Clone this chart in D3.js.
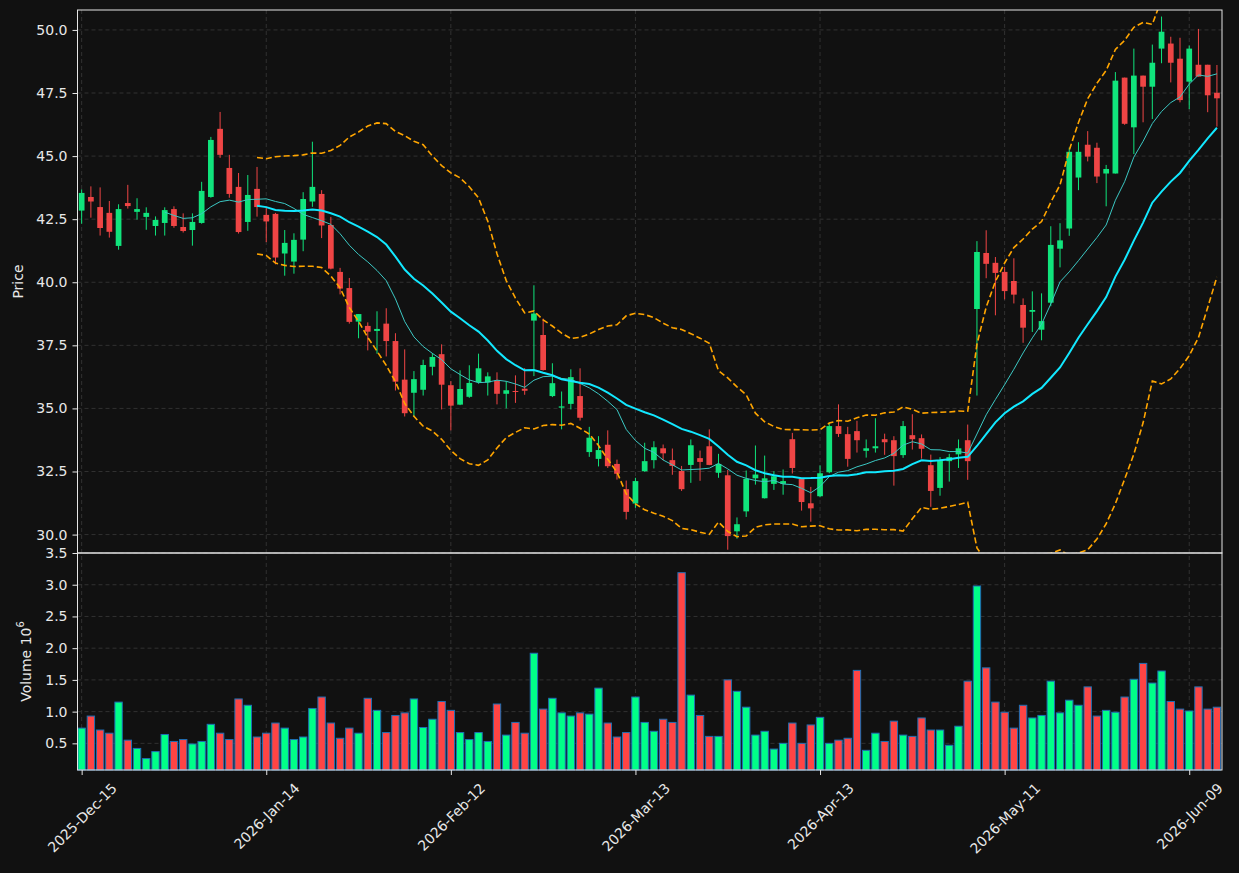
<!doctype html>
<html lang="en">
<head>
<meta charset="utf-8" />
<title>Price and volume</title>
<script src="https://d3js.org/d3.v7.min.js"></script>
<style>
 body { margin: 0; background: #111111; }
 svg { display: block; font-family: "DejaVu Sans", sans-serif; }
 .tick text { fill: #e8e8e8; font-size: 14px; font-family: "DejaVu Sans", sans-serif; }
</style>
</head>
<body>
<svg id="chart" width="1239" height="873"></svg>
<script>
// daily candles, one per trading day (index 0 = 2025-Dec-15)
const opens = [42.84,43.38,42.98,42.75,41.44,43.14,42.79,42.59,42.23,42.35,
  42.90,42.19,42.07,42.35,43.38,46.08,44.53,43.78,42.39,43.70,
  42.67,42.71,41.14,40.82,41.69,43.20,43.50,42.27,40.41,39.77,
  38.44,38.27,38.07,38.36,37.67,36.14,35.62,35.74,36.65,37.15,
  35.92,35.15,35.46,36.04,36.03,36.11,35.58,35.69,35.78,38.48,
  37.91,35.49,35.03,35.18,35.49,33.27,33.00,33.56,32.80,31.80,
  31.23,32.51,32.95,33.42,32.95,32.52,32.76,33.03,33.50,32.45,
  32.35,30.13,30.92,32.23,31.44,32.01,32.01,33.78,32.21,31.24,
  31.52,32.47,34.30,33.98,34.10,33.32,33.42,33.78,33.74,33.15,
  33.94,33.82,32.75,31.85,32.91,33.18,33.74,38.94,41.16,40.77,
  40.41,40.05,39.10,38.83,38.12,39.19,41.33,42.13,44.15,45.45,
  45.33,44.31,44.31,48.11,46.14,48.19,47.75,49.26,49.46,48.86,
  47.95,48.62,48.62,47.51];
const highs = [43.68,43.80,43.76,43.22,43.09,43.86,43.33,42.97,42.61,42.97,
  43.01,42.73,42.73,43.98,45.76,46.75,45.05,44.33,44.25,44.57,
  42.94,42.75,42.07,41.94,43.57,45.57,43.65,42.59,40.57,40.17,
  38.74,38.41,38.85,38.97,37.98,37.34,36.48,36.93,37.19,37.54,
  36.08,36.51,36.71,37.17,36.43,36.43,36.08,36.31,36.60,39.88,
  38.56,36.79,35.67,36.55,36.59,34.27,33.90,34.13,32.97,32.14,
  32.25,33.64,33.70,33.57,33.41,32.72,33.77,33.33,34.17,33.20,
  32.56,30.68,32.54,33.53,33.13,32.51,32.58,34.03,32.21,31.89,
  32.74,34.42,35.16,34.27,34.51,33.77,34.61,34.00,33.90,34.50,
  34.77,33.97,33.17,33.07,33.20,33.77,34.36,41.63,42.06,41.00,
  40.61,40.95,39.36,39.64,39.56,42.22,42.34,45.34,45.55,45.99,
  45.53,44.65,48.33,48.11,49.26,48.19,49.42,50.53,49.73,49.69,
  49.38,50.04,48.62,48.61];
const lows = [42.32,42.56,41.85,41.77,41.29,42.92,42.48,42.08,41.85,41.85,
  42.16,41.97,41.45,42.32,43.35,44.93,43.35,41.93,42.04,42.60,
  41.59,40.71,40.26,40.34,41.23,42.99,41.75,40.51,39.52,38.36,
  37.78,37.30,37.17,37.06,35.71,34.68,34.67,35.51,36.31,34.96,
  34.13,35.13,35.42,35.98,35.51,35.16,35.00,35.22,35.54,36.28,
  36.50,35.45,34.17,34.96,34.52,33.08,32.70,32.64,32.18,30.60,
  31.06,32.49,32.62,32.95,32.37,31.73,32.05,32.13,32.75,32.25,
  29.40,29.84,30.70,31.98,31.43,31.77,31.58,32.42,30.95,30.51,
  31.48,32.43,33.87,32.69,33.25,33.05,33.25,33.16,31.94,33.04,
  33.37,33.01,31.10,31.54,32.10,32.64,32.17,35.51,40.16,38.69,
  39.32,39.16,37.60,38.03,37.70,39.05,40.59,41.84,43.65,44.79,
  43.93,43.01,44.31,46.24,45.08,46.34,46.47,48.68,47.92,47.13,
  46.86,48.15,46.74,46.17];
const closes = [43.54,43.20,42.15,42.00,42.90,43.02,42.90,42.75,42.47,42.86,
  42.23,42.03,42.39,43.62,45.64,45.05,43.50,41.99,43.46,42.98,
  42.41,40.98,41.56,41.68,43.30,43.78,42.25,40.54,39.75,38.43,
  38.74,38.04,38.15,37.67,36.06,34.81,36.16,36.72,37.04,35.94,
  35.11,35.77,36.01,36.59,36.27,35.58,35.72,35.66,35.70,38.76,
  36.52,36.00,35.08,36.24,34.63,33.84,33.35,32.71,32.41,30.90,
  32.12,32.91,33.46,33.22,32.72,31.80,33.54,32.88,32.76,32.80,
  29.94,30.41,32.21,32.38,32.23,32.31,32.12,32.64,31.29,31.04,
  32.43,34.30,33.99,33.00,33.74,33.42,33.50,33.66,33.11,34.30,
  33.78,33.40,31.73,32.93,33.07,33.42,32.91,41.20,40.73,40.37,
  39.65,39.51,38.20,38.90,38.46,41.48,41.66,45.17,45.17,44.98,
  44.19,44.49,47.99,46.28,48.19,47.75,48.70,49.93,48.70,47.22,
  49.26,48.15,47.41,47.29];
// volume in millions
const volumes = [0.74,0.93,0.71,0.66,1.15,0.55,0.42,0.26,0.37,0.64,
  0.53,0.56,0.49,0.53,0.80,0.66,0.56,1.20,1.10,0.60,
  0.66,0.82,0.74,0.56,0.60,1.05,1.23,0.82,0.58,0.74,
  0.66,1.21,1.02,0.67,0.94,0.98,1.20,0.75,0.88,1.16,
  1.02,0.67,0.56,0.67,0.53,1.12,0.63,0.83,0.66,1.92,
  1.04,1.21,0.98,0.93,0.98,0.96,1.37,0.82,0.60,0.67,
  1.23,0.83,0.69,0.88,0.83,3.19,1.26,0.94,0.61,0.61,
  1.50,1.32,1.07,0.63,0.69,0.41,0.50,0.82,0.50,0.79,
  0.91,0.50,0.55,0.58,1.65,0.39,0.66,0.53,0.85,0.63,
  0.61,0.90,0.71,0.71,0.47,0.77,1.48,2.98,1.69,1.15,
  0.99,0.74,1.10,0.90,0.94,1.48,0.98,1.18,1.10,1.39,
  0.93,1.02,0.99,1.23,1.51,1.76,1.45,1.64,1.16,1.04,
  1.01,1.39,1.04,1.07];

const tickIdx = [0, 20, 40, 60, 80, 100, 120];
const tickLabels = ["2025-Dec-15", "2026-Jan-14", "2026-Feb-12", "2026-Mar-13",
  "2026-Apr-13", "2026-May-11", "2026-Jun-09"];
const priceTicks = [30, 32.5, 35, 37.5, 40, 42.5, 45, 47.5, 50];
const volTicks = [0.5, 1.0, 1.5, 2.0, 2.5, 3.0, 3.5];

const upCol = "#10e47c", downCol = "#ef4545";
const volUp = "#00ff88", volDown = "#ff4444";

const svg = d3.select("#chart");
const pLeft = 77.5, pRight = 1222, pTop = 10, pMid = 553, pBottom = 770;

const x = d3.scaleLinear().domain([-0.45, 123.55]).range([pLeft, pRight]);
const yP = d3.scaleLinear().domain([29.27, 50.79]).range([pMid, pTop]);
const yV = d3.scaleLinear().domain([0.08, 3.5]).range([pBottom, pMid]);
const step = x(1) - x(0);

svg.append("rect").attr("width", 1239).attr("height", 873).attr("fill", "#111111");

// moving averages / bollinger from closes
function rolling(arr, n, f) {
  return arr.map((_, i) => i < n - 1 ? null : f(arr.slice(i - n + 1, i + 1)));
}
const sma10 = rolling(closes, 10, d3.mean);
const sma20 = rolling(closes, 20, d3.mean);
const sd20 = rolling(closes, 20, d3.deviation);
const upper = sma20.map((m, i) => m == null ? null : m + 2 * sd20[i]);
const lower = sma20.map((m, i) => m == null ? null : m - 2 * sd20[i]);

const defs = svg.append("defs");
defs.append("clipPath").attr("id", "clipP").append("rect")
  .attr("x", pLeft).attr("y", pTop).attr("width", pRight - pLeft).attr("height", pMid - pTop);

// grid
const grid = svg.append("g").attr("stroke", "#3a3a3a").attr("stroke-width", 0.8)
  .attr("stroke-dasharray", "4,3");
tickIdx.forEach(i => {
  grid.append("line").attr("x1", x(i)).attr("x2", x(i)).attr("y1", pTop).attr("y2", pBottom);
});
priceTicks.forEach(v => {
  grid.append("line").attr("x1", pLeft).attr("x2", pRight).attr("y1", yP(v)).attr("y2", yP(v));
});
volTicks.forEach(v => {
  grid.append("line").attr("x1", pLeft).attr("x2", pRight).attr("y1", yV(v)).attr("y2", yV(v));
});

// candles
const cw = step * 0.62;
const cg = svg.append("g").attr("clip-path", "url(#clipP)");
closes.forEach((c, i) => {
  const col = c >= opens[i] ? upCol : downCol;
  cg.append("line").attr("x1", x(i)).attr("x2", x(i))
    .attr("y1", yP(highs[i])).attr("y2", yP(lows[i]))
    .attr("stroke", col).attr("stroke-width", 1);
  const y1 = yP(Math.max(c, opens[i])), y2 = yP(Math.min(c, opens[i]));
  cg.append("rect").attr("x", x(i) - cw / 2).attr("y", y1)
    .attr("width", cw).attr("height", Math.max(1, y2 - y1)).attr("fill", col);
});

// lines
function drawLine(vals, color, width, dash) {
  const line = d3.line().defined(d => d != null)
    .x((d, i) => x(i)).y(d => yP(d));
  svg.append("path").attr("clip-path", "url(#clipP)")
    .attr("d", line(vals)).attr("fill", "none")
    .attr("stroke", color).attr("stroke-width", width)
    .attr("stroke-dasharray", dash || null);
}
drawLine(upper, "#ffa500", 1.6, "6,3");
drawLine(lower, "#ffa500", 1.6, "6,3");
drawLine(sma10, "#3cc8c4", 1);
drawLine(sma20, "#12e8ff", 2);

// volume
const vw = step * 0.8;
svg.append("g").selectAll("rect").data(volumes).join("rect")
  .attr("x", (d, i) => x(i) - vw / 2)
  .attr("y", d => yV(d))
  .attr("width", vw)
  .attr("height", d => pBottom - yV(d))
  .attr("fill", (d, i) => closes[i] >= opens[i] ? volUp : volDown)
  .attr("stroke", "#1f6fb4").attr("stroke-width", 1);

// frames
[[pTop, pMid], [pMid, pBottom]].forEach(([a, b]) => {
  svg.append("rect").attr("x", pLeft).attr("y", a).attr("width", pRight - pLeft)
    .attr("height", b - a).attr("fill", "none").attr("stroke", "#e6e6e6").attr("stroke-width", 1);
});

// axes
function styleAxis(g) {
  g.attr("font-family", null).attr("font-size", null);
  g.select(".domain").remove();
  g.selectAll(".tick line").attr("stroke", "#e6e6e6");
}
svg.append("g").attr("transform", `translate(${pLeft},0)`)
  .call(d3.axisLeft(yP).tickValues(priceTicks).tickFormat(d3.format(".1f"))
    .tickSize(5).tickPadding(5)).call(styleAxis);
svg.append("g").attr("transform", `translate(${pLeft},0)`)
  .call(d3.axisLeft(yV).tickValues(volTicks).tickFormat(d3.format(".1f"))
    .tickSize(5).tickPadding(5)).call(styleAxis);
const xa = svg.append("g").attr("transform", `translate(0,${pBottom})`)
  .call(d3.axisBottom(x).tickValues(tickIdx).tickFormat((d, i) => tickLabels[i])
    .tickSize(5).tickPadding(5)).call(styleAxis);
xa.selectAll(".tick text").each(function () {
  const t = d3.select(this);
  t.attr("y", null).attr("dy", null).attr("text-anchor", "middle")
    .attr("dominant-baseline", "central").attr("transform", "rotate(-45)");
  const h = this.getBoundingClientRect().height;
  t.attr("transform", `translate(0,${10 + h / 2}) rotate(-45)`);
});

// labels
svg.append("text").attr("transform", `translate(18,${(pTop + pMid) / 2}) rotate(-90)`)
  .attr("text-anchor", "middle").attr("dominant-baseline", "central")
  .attr("fill", "#e8e8e8").attr("font-size", 14).text("Price");
const vl = svg.append("text").attr("transform", `translate(26,${(pMid + pBottom) / 2}) rotate(-90)`)
  .attr("text-anchor", "middle").attr("dominant-baseline", "central")
  .attr("fill", "#e8e8e8").attr("font-size", 14);
vl.append("tspan").text("Volume  10");
vl.append("tspan").attr("font-size", 10).attr("dy", -6).text("6");
</script>
</body>
</html>
